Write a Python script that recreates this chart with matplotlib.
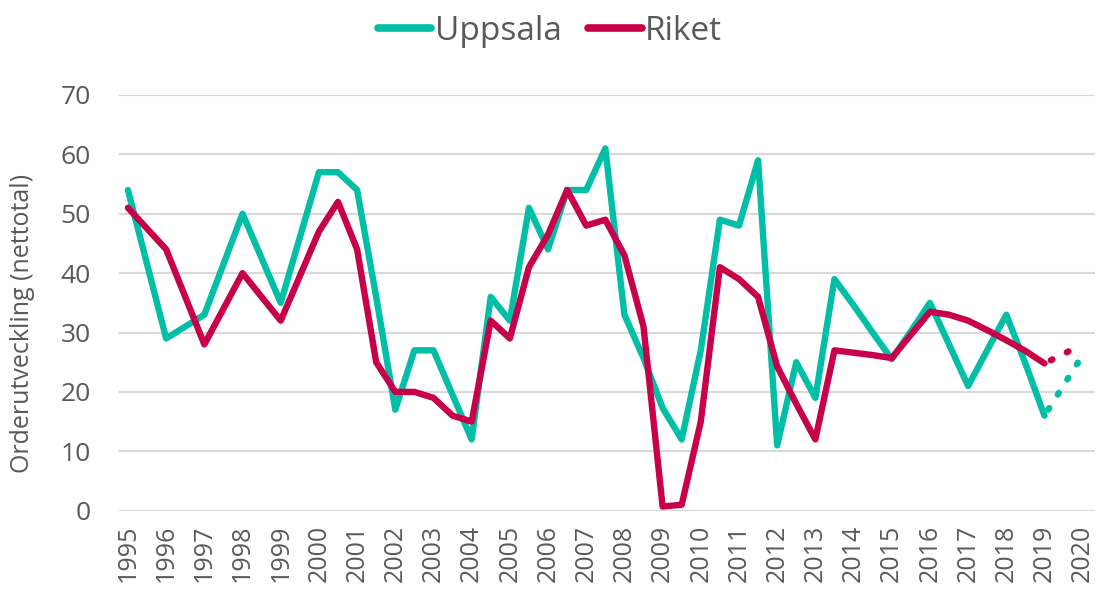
import matplotlib
matplotlib.use('Agg')
from matplotlib import pyplot as plt

plt.rcParams['font.family'] = ['Open Sans', 'DejaVu Sans']

# period (year, half years from 2000)
perioder = [1995, 1996, 1997, 1998, 1999,
            2000, 2000.5, 2001, 2001.5, 2002, 2002.5, 2003, 2003.5, 2004, 2004.5,
            2005, 2005.5, 2006, 2006.5, 2007, 2007.5, 2008, 2008.5, 2009, 2009.5,
            2010, 2010.5, 2011, 2011.5, 2012, 2012.5, 2013, 2013.5, 2014, 2014.5,
            2015, 2015.5, 2016, 2016.5, 2017, 2017.5, 2018, 2018.5, 2019]

uppsala = [54, 29, 33, 50, 35,
           57, 57, 54, 36, 17, 27, 27, 19.5, 12, 36,
           32, 51, 44, 54, 54, 61, 33, 25.7, 17.3, 12,
           27, 49, 48, 59, 11, 25, 19, 39, 34.6, 30,
           25.5, 30.2, 35, 28, 21, 27, 33, 24.8, 16]

riket = [51, 44, 28, 40, 32,
         47, 52, 44, 25, 20, 20, 19, 16, 15, 32,
         29, 41, 46.5, 54, 48, 49, 43, 31, 0.7, 1.0,
         15, 41, 39, 36, 24.3, 18, 12, 27, 26.6, 26.2,
         25.7, 29.6, 33.5, 33, 32, 30.4, 28.7, 26.9, 24.8]

# prognos
prognos_x = [2019, 2020]
uppsala_prognos = [16, 26.2]
riket_prognos = [24.8, 28]

ar = list(range(1995, 2021))

teal = '#00BFA6'
rod = '#C8004A'
grey = '#595959'

fig = plt.figure(figsize=(11, 5.97), dpi=100)
ax = fig.add_axes([0.108, 0.1446, 0.887, 0.6963])

lw = 4.6
ax.plot(perioder, uppsala, color=teal, lw=lw, solid_capstyle='round',
        solid_joinstyle='round', label='Uppsala', zorder=3)
ax.plot(perioder, riket, color=rod, lw=lw, solid_capstyle='round',
        solid_joinstyle='round', label='Riket', zorder=4)
ax.plot(prognos_x, uppsala_prognos, color=teal, lw=lw, dash_capstyle='round',
        linestyle=(1.7, (0.3, 2.5)), zorder=3)
ax.plot(prognos_x, riket_prognos, color=rod, lw=lw, dash_capstyle='round',
        linestyle=(1.7, (0.3, 2.5)), zorder=4)

ax.set_ylim(0, 70)
ax.set_xlim(1994.76, 2020.31)
ax.set_yticks(range(0, 71, 10))
ax.set_xticks(ar)
ax.set_xticklabels([str(a) for a in ar], rotation=90)

ax.grid(axis='y', color='#D9D9D9', lw=1.5)
ax.set_axisbelow(True)
for s in ax.spines.values():
    s.set_visible(False)
ax.tick_params(axis='y', length=0, pad=20, labelsize=19, labelcolor=grey)
ax.tick_params(axis='x', length=0, pad=10, labelsize=18, labelcolor=grey)

ax.set_ylabel('Orderutveckling (nettotal)', fontsize=18, color=grey)
ax.yaxis.set_label_coords(-0.086, 0.45)

leg = fig.legend(loc='center', bbox_to_anchor=(0.5, 0.948), ncol=2, frameon=False,
                 fontsize=24, handlelength=1.6, handletextpad=0.1, columnspacing=0.8)
for t in leg.get_texts():
    t.set_color(grey)
for h in leg.get_lines():
    h.set_linewidth(5.5)
    h.set_solid_capstyle('round')

fig.savefig('out.png', dpi=100)
